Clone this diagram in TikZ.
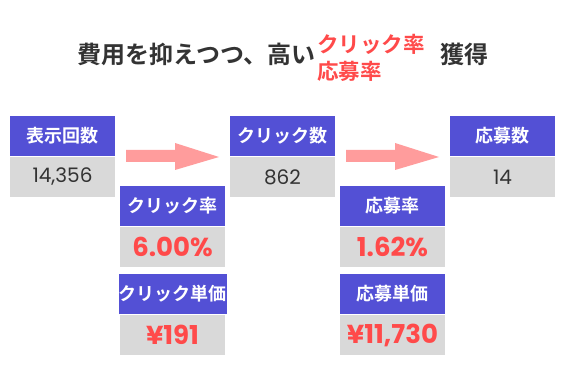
\documentclass[tikz,border=0pt]{standalone}
\usepackage{fontspec}
\setmainfont{Noto Sans CJK JP}
\newfontfamily\jpb{Noto Sans CJK JP}[BoldFont={* Bold}]
\newfontfamily\numf{Poppins}
\newfontfamily\numb{Poppins}[BoldFont={* Bold}]
\definecolor{hdr}{HTML}{5350D5}
\definecolor{val}{HTML}{D9D9D9}
\definecolor{redt}{HTML}{FF4A4A}
\definecolor{arr}{HTML}{FF9C9C}
\definecolor{txt}{HTML}{333333}
\tikzset{
  hbox/.style={fill=hdr, draw=none, minimum width=105pt, minimum height=40pt, inner sep=0pt, text=white, font=\jpb\bfseries\fontsize{18}{18}\selectfont},
  vbox/.style={fill=val, draw=none, minimum width=105pt, minimum height=40pt, inner sep=0pt, text=txt, font=\numf\fontsize{20}{20}\selectfont},
  rbox/.style={fill=val, draw=none, minimum width=105pt, minimum height=40pt, inner sep=0pt, text=redt, font=\numb\bfseries\fontsize{26}{26}\selectfont},
  bigarrow/.style={fill=arr, draw=none},
  ttl/.style={inner sep=0pt, text=txt, font=\jpb\bfseries\fontsize{24}{24}\selectfont},
  ttlred/.style={inner sep=0pt, text=redt, font=\jpb\bfseries\fontsize{21.5}{21.5}\selectfont},
}
\begin{document}
\begin{tikzpicture}[x=1pt,y=-1pt]
\useasboundingbox[fill=white] (0,0) rectangle (565,390);
% title
\node[ttl, anchor=west] (t1) at (77,54) {費用を抑えつつ、高い};
\node[ttlred, anchor=west] (t2) at (317,44) {クリック率};
\node[ttlred, anchor=west] (t3) at (317,71) {応募率};
\node[ttl, anchor=west] (t4) at (440,54) {獲得};
% top row
\node[hbox] (h1) at (62.5,136) {表示回数};
\node[vbox] (v1) at (62.5,177) {14,356};
\node[hbox] (h2) at (282.5,136) {クリック数};
\node[vbox] (v2) at (282.5,177) {862};
\node[hbox] (h3) at (502.5,136) {応募数};
\node[vbox] (v3) at (502.5,177) {14};
% lower boxes
\node[hbox] (h4) at (172.5,206) {クリック率};
\node[rbox] (v4) at (172.5,247) {6.00\%};
\node[hbox] (h5) at (172.5,294) {クリック単価};
\node[rbox] (v5) at (172.5,335) {¥191};
\node[hbox] (h6) at (392.5,206) {応募率};
\node[rbox] (v6) at (392.5,247) {1.62\%};
\node[hbox] (h7) at (392.5,294) {応募単価};
\node[rbox] (v7) at (392.5,335) {¥11,730};
% arrows
\fill[bigarrow] (126,150) -- (175,150) -- (175,143) -- (219,157) -- (175,170) -- (175,162) -- (126,162) -- cycle;
\fill[bigarrow] (346,150) -- (395,150) -- (395,143) -- (439,157) -- (395,170) -- (395,162) -- (346,162) -- cycle;
\end{tikzpicture}
\end{document}
